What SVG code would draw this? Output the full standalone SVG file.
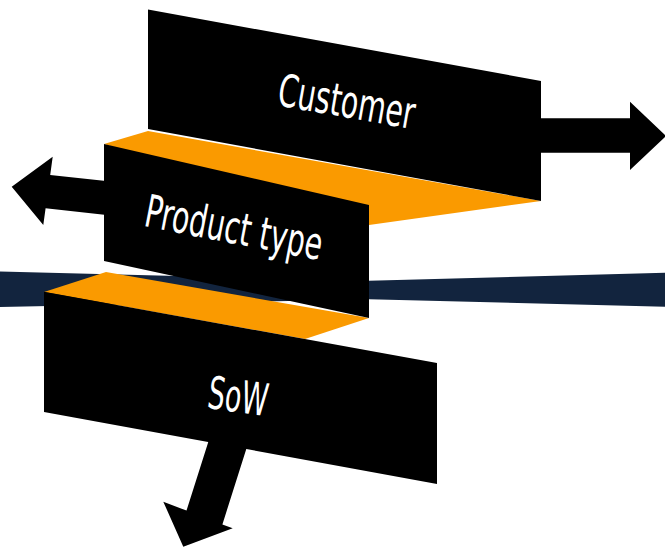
<svg xmlns="http://www.w3.org/2000/svg" width="665" height="550" viewBox="0 0 665 550">
<style>
.box{fill:#000}
.fold{fill:#FA9A00}
.arrow{fill:#000}
.band{fill:#12243E}
.lbl{fill:#fff;font-family:'Liberation Sans Narrow','DejaVu Sans Condensed','DejaVu Sans',sans-serif;font-size:45px;font-weight:300;text-anchor:middle}
</style>
<rect width="665" height="550" fill="#fff"/>
<polygon class="band" points="0,271.5 369,280.7 665,272.7 665,306.7 369,299.3 0,307"/>
<g id="connectors">
<polygon id="arrow-customer" class="arrow" points="520,118.3 630,118.3 630,101.7 666,136 630,170 630,152.7 520,152.7"/>
<polygon id="arrow-product" class="arrow" points="120,182.5 50.2,175 52.7,156.7 11.7,186.7 43.3,225 45.6,208.3 120,216.5"/>
<polygon id="arrow-sow" class="arrow" points="215.9,417.9 253.5,426.2 222.4,524.4 232.7,528.3 183.3,546.7 163.3,501.7 186.5,510.6"/>
</g>
<polygon class="fold" points="104,144 148,131 541,201 369,225"/>
<polygon class="fold" points="44,292 106,272 369,318 305,339"/>
<g id="node-customer">
<polygon class="box" points="148,9.5 541,81 541,201 148,129"/>
<text class="lbl" transform="translate(344,117) rotate(10)" textLength="138" lengthAdjust="spacingAndGlyphs">Customer</text>
</g>
<g id="node-product-type">
<polygon class="box" points="104,144 369,205 369,318 104,261"/>
<text class="lbl" transform="translate(231,243) rotate(11)" textLength="180" lengthAdjust="spacingAndGlyphs">Product type</text>
</g>
<g id="node-sow">
<polygon class="box" points="44,291.7 437,363 437,484 44,412"/>
<text class="lbl" transform="translate(236,412) rotate(8)" textLength="60" lengthAdjust="spacingAndGlyphs">SoW</text>
</g>
</svg>
